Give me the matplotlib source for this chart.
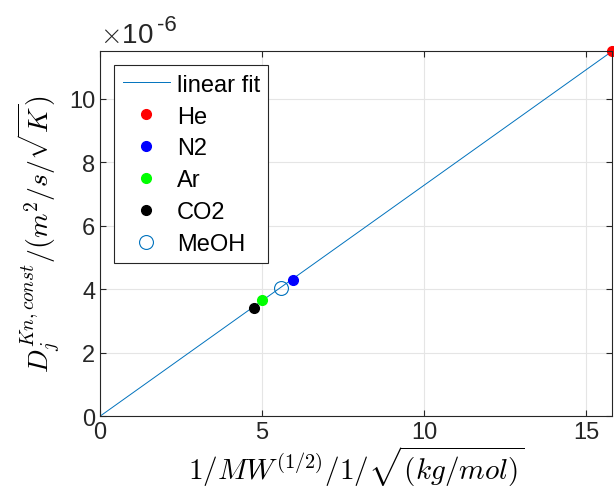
import numpy as np
import matplotlib
matplotlib.use("Agg")
import matplotlib.pyplot as plt
from matplotlib.ticker import FuncFormatter

plt.rcParams['font.family'] = ['Liberation Sans', 'DejaVu Sans']
plt.rcParams['mathtext.fontset'] = 'cm'

# gases: 1/sqrt(MW) [1/sqrt(kg/mol)] and Knudsen diffusivity constant
gases = ['He', 'N2', 'Ar', 'CO2']
gas_x = [15.81, 5.96, 5.00, 4.75]
gas_y = [11.5e-6, 4.28e-6, 3.65e-6, 3.40e-6]
gas_colors = ['#ff0000', '#0000ff', '#00ff00', '#000000']

meoh_x = [5.59]
meoh_y = [4.03e-6]

fit_x = [0.0, 15.81]
fit_y = [0.0, 11.5e-6]

x_ticks = [0, 5, 10, 15]
y_ticks = [0, 2e-6, 4e-6, 6e-6, 8e-6, 10e-6]

matlab_blue = '#0072bd'
axis_grey = '#262626'

fig = plt.figure(figsize=(6.14, 5.02), dpi=100)
ax = fig.add_axes([0.163, 0.169, 0.834, 0.727])

ax.plot(fit_x, fit_y, color=matlab_blue, linewidth=0.7, label='linear fit')
for name, x, y, c in zip(gases, gas_x, gas_y, gas_colors):
    ax.plot(x, y, 'o', color=c, markersize=7, label=name, clip_on=False)
ax.plot(meoh_x, meoh_y, 'o', markerfacecolor='none', markeredgecolor=matlab_blue,
        markeredgewidth=0.8, markersize=10, label='MeOH')

ax.set_xlim(0, 15.81)
ax.set_ylim(0, 11.5e-6)
ax.set_xticks(x_ticks)
ax.set_yticks(y_ticks)
ax.yaxis.set_major_formatter(FuncFormatter(lambda v, p: f"{v * 1e6:.0f}"))

ax.grid(True, color='#e5e5e5', linewidth=0.8)
ax.set_axisbelow(True)
ax.tick_params(direction='in', top=True, right=True, labelsize=17,
               colors=axis_grey, length=4, width=0.8)
for s in ax.spines.values():
    s.set_color(axis_grey)
    s.set_linewidth(0.8)

ax.text(0.0, 1.01, r'$\times$10', transform=ax.transAxes,
        fontsize=20, color=axis_grey, ha='left', va='bottom')
ax.text(0.112, 1.045, '-6', transform=ax.transAxes,
        fontsize=16, color=axis_grey, ha='left', va='bottom')

ax.set_xlabel(r'$1/MW^{(1/2)}/1/\sqrt{(kg/mol)}$', fontsize=21, labelpad=0)
ax.set_ylabel(r'$D_j^{Kn,const}/(m^2/s/\sqrt{K})$', fontsize=20, labelpad=4)

leg = ax.legend(loc='upper left', fontsize=17, fancybox=False, framealpha=1,
                edgecolor=axis_grey, handlelength=2.0, handletextpad=0.3,
                borderpad=0.35, labelspacing=0.42, borderaxespad=0.6)
leg.get_frame().set_linewidth(0.8)

fig.savefig('out.png', dpi=100)
